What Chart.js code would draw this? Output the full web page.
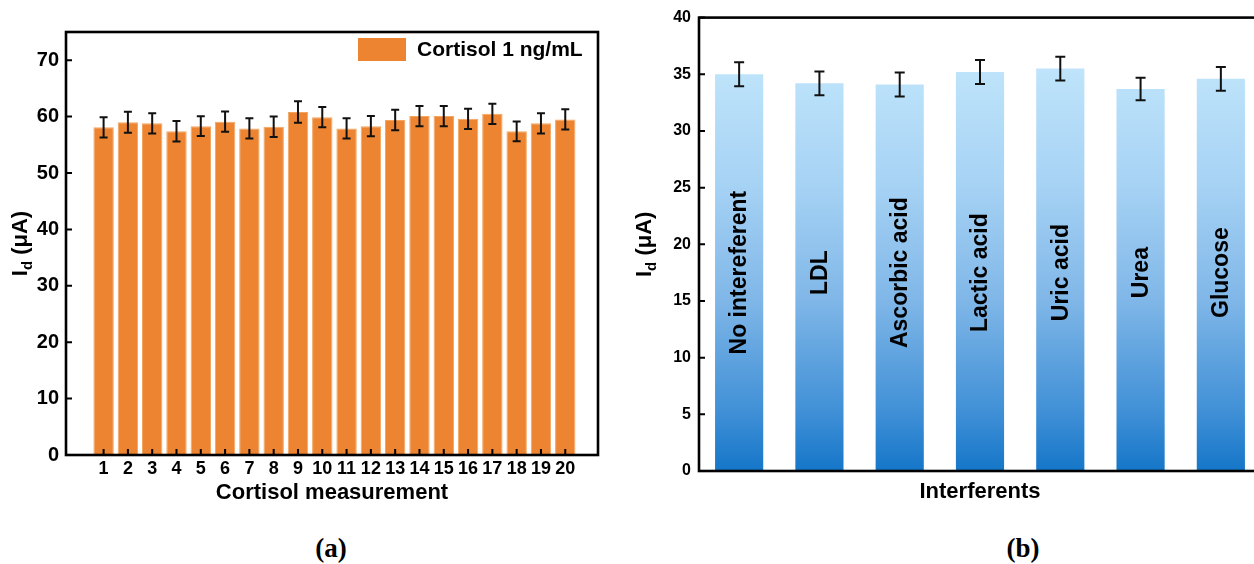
<!DOCTYPE html>
<html>
<head>
<meta charset="utf-8">
<script src="https://cdn.jsdelivr.net/npm/chart.js@4.4.1/dist/chart.umd.min.js"></script>
<style>
  html, body { margin: 0; padding: 0; background: #fff; }
  #wrap { position: relative; width: 1254px; height: 564px; overflow: hidden; }
  canvas { position: absolute; top: 0; }
  #chartA { left: 0; }
  #chartB { left: 620px; }
  .panel { position: absolute; top: 533px; line-height: 30px; transform: translateX(-50%);
           font: bold 27px 'Liberation Serif', 'Times New Roman', serif; color: #000; }
</style>
</head>
<body>
<div id="wrap">
  <canvas id="chartA" width="620" height="520"></canvas>
  <canvas id="chartB" width="660" height="520"></canvas>
  <div class="panel" style="left:331px">(a)</div>
  <div class="panel" style="left:1023px">(b)</div>
</div>
<script>
// datos del panel (a)
const medidas = [1, 2, 3, 4, 5, 6, 7, 8, 9, 10, 11, 12, 13, 14, 15, 16, 17, 18, 19, 20];
const corriente = [58.1, 59.0, 58.8, 57.4, 58.3, 59.1, 57.9, 58.2, 60.8, 59.9, 57.9, 58.3, 59.4, 60.1, 60.1, 59.6, 60.5, 57.4, 58.8, 59.5];
const errorCorriente = [1.8, 1.85, 1.8, 1.8, 1.75, 1.8, 1.8, 1.8, 1.9, 1.8, 1.8, 1.8, 1.8, 1.8, 1.8, 1.8, 1.8, 1.75, 1.8, 1.8];
const ticksA = [0, 10, 20, 30, 40, 50, 60, 70];

// datos del panel (b)
const interferentes = ['No intereferent', 'LDL', 'Ascorbic acid', 'Lactic acid', 'Uric acid', 'Urea', 'Glucose'];
const valores = [35.0, 34.2, 34.1, 35.2, 35.5, 33.7, 34.6];
const errores = [1.05, 1.05, 1.05, 1.05, 1.05, 1.0, 1.05];
const ticksB = [0, 5, 10, 15, 20, 25, 30, 35, 40];

Chart.defaults.font.family = "'Liberation Sans', Arial, sans-serif";
Chart.defaults.font.weight = 'bold';
Chart.defaults.color = '#000';

// marco negro y ticks hacia adentro
const marcoPlugin = {
    id: 'marco',
    afterDatasetsDraw(chart, args, opts) {
        const { ctx, chartArea: a, scales } = chart;
        ctx.save();
        ctx.strokeStyle = '#000';
        ctx.lineWidth = 2;
        ctx.beginPath();
        scales.y.ticks.forEach(t => {
            const y = scales.y.getPixelForValue(t.value);
            ctx.moveTo(a.left, y);
            ctx.lineTo(a.left + 6, y);
        });
        if (opts.xTicks) {
            scales.x.ticks.forEach(t => {
                const x = scales.x.getPixelForValue(t.value);
                ctx.moveTo(x, a.bottom);
                ctx.lineTo(x, a.bottom - 6);
            });
        }
        ctx.stroke();
        ctx.lineWidth = 2.6;
        ctx.strokeRect(a.left, a.top, a.right - a.left, a.bottom - a.top);
        ctx.restore();
    }
};

// barras de error
const errorPlugin = {
    id: 'barrasError',
    afterDatasetsDraw(chart, args, opts) {
        const { ctx } = chart;
        const meta = chart.getDatasetMeta(0);
        const ys = chart.scales.y;
        const datos = chart.data.datasets[0].data;
        ctx.save();
        ctx.strokeStyle = '#111';
        ctx.lineWidth = 2;
        meta.data.forEach((bar, i) => {
            const v = typeof datos[i] === 'object' ? datos[i].y : datos[i];
            const y1 = ys.getPixelForValue(v + opts.errores[i]);
            const y2 = ys.getPixelForValue(v - opts.errores[i]);
            const c = opts.cap / 2;
            ctx.beginPath();
            ctx.moveTo(bar.x, y1); ctx.lineTo(bar.x, y2);
            ctx.moveTo(bar.x - c, y1); ctx.lineTo(bar.x + c, y1);
            ctx.moveTo(bar.x - c, y2); ctx.lineTo(bar.x + c, y2);
            ctx.stroke();
        });
        ctx.restore();
    }
};

// título del eje y con subíndice
const tituloYPlugin = {
    id: 'tituloY',
    afterDraw(chart, args, opts) {
        const { ctx, chartArea: a } = chart;
        const grande = "bold " + opts.size + "px 'Liberation Sans', Arial, sans-serif";
        const chico = "bold " + Math.round(opts.size * 0.68) + "px 'Liberation Sans', Arial, sans-serif";
        ctx.save();
        ctx.font = grande;
        const wI = ctx.measureText('I').width;
        const wR = ctx.measureText(' (\u03bcA)').width;
        ctx.font = chico;
        const wd = ctx.measureText('d').width;
        const total = wI + wd + wR;
        ctx.translate(opts.x, (a.top + a.bottom) / 2);
        ctx.rotate(-Math.PI / 2);
        ctx.fillStyle = '#000';
        ctx.textBaseline = 'middle';
        ctx.textAlign = 'left';
        let x = -total / 2;
        ctx.font = grande;
        ctx.fillText('I', x, 0);
        x += wI;
        ctx.font = chico;
        ctx.fillText('d', x, opts.size * 0.3);
        x += wd;
        ctx.font = grande;
        ctx.fillText(' (\u03bcA)', x, 0);
        ctx.restore();
    }
};

// leyenda dentro del área del gráfico (a)
const leyendaPlugin = {
    id: 'leyendaDentro',
    afterDraw(chart, args, opts) {
        const { ctx } = chart;
        const ds = chart.data.datasets[0];
        ctx.save();
        ctx.fillStyle = ds.backgroundColor;
        ctx.fillRect(opts.x, opts.y, 48, 23);
        ctx.fillStyle = '#000';
        ctx.font = "bold 21px 'Liberation Sans', Arial, sans-serif";
        ctx.textBaseline = 'middle';
        ctx.fillText(ds.label, opts.x + 59, opts.y + 12);
        ctx.restore();
    }
};

// nombres dentro de las barras (b)
const etiquetasPlugin = {
    id: 'etiquetasBarra',
    afterDatasetsDraw(chart, args, opts) {
        const { ctx } = chart;
        const meta = chart.getDatasetMeta(0);
        const yc = chart.scales.y.getPixelForValue(opts.centro);
        ctx.save();
        ctx.fillStyle = '#000';
        ctx.font = "bold 23px 'Liberation Sans', Arial, sans-serif";
        ctx.textAlign = 'center';
        ctx.textBaseline = 'middle';
        meta.data.forEach((bar, i) => {
            ctx.save();
            ctx.translate(bar.x, yc);
            ctx.rotate(-Math.PI / 2);
            ctx.fillText(chart.data.labels[i], 0, 1);
            ctx.restore();
        });
        ctx.restore();
    }
};

// degradado azul de las barras
function degradado(context) {
    const chart = context.chart;
    if (!chart.chartArea) return '#8fc3ee';
    const ys = chart.scales.y;
    const g = chart.ctx.createLinearGradient(0, ys.getPixelForValue(36), 0, ys.getPixelForValue(0));
    g.addColorStop(0, '#c0e5fb');
    g.addColorStop(0.3, '#a6d2f4');
    g.addColorStop(0.58, '#80b7e8');
    g.addColorStop(0.86, '#3f8fd6');
    g.addColorStop(1, '#1576c8');
    return g;
}

new Chart(document.getElementById('chartA'), {
    type: 'bar',
    data: {
        datasets: [{
            label: 'Cortisol 1 ng/mL',
            data: medidas.map((m, i) => ({ x: m, y: corriente[i] })),
            backgroundColor: '#ED8431',
            borderColor: '#f3a560',
            borderWidth: 1,
            barPercentage: 0.84,
            categoryPercentage: 1
        }]
    },
    options: {
        responsive: false,
        animation: false,
        devicePixelRatio: 1,
        layout: { padding: { top: 32, right: 22, left: 0, bottom: 0 } },
        plugins: {
            legend: { display: false },
            tooltip: { enabled: false },
            marco: { xTicks: true },
            barrasError: { errores: errorCorriente, cap: 8 },
            tituloY: { x: 21, size: 22 },
            leyendaDentro: { x: 358, y: 38 }
        },
        scales: {
            x: {
                type: 'linear',
                min: 0,
                max: 20.8,
                afterBuildTicks: s => { s.ticks = medidas.map(v => ({ value: v })); },
                afterFit: s => { s.height = 65; },
                grid: { display: false, drawTicks: false },
                border: { display: false },
                ticks: { autoSkip: false, maxRotation: 0, padding: 3, font: { size: 18, weight: 'bold' } },
                title: { display: true, text: 'Cortisol measurement', font: { size: 22, weight: 'bold' }, padding: { top: 0, bottom: 14 } }
            },
            y: {
                min: 0,
                max: 75,
                afterBuildTicks: s => { s.ticks = ticksA.map(v => ({ value: v })); },
                afterFit: s => { s.width = 66; },
                grid: { display: false, drawTicks: false },
                border: { display: false },
                ticks: { padding: 7, font: { size: 20, weight: 'bold' } }
            }
        }
    },
    plugins: [marcoPlugin, errorPlugin, tituloYPlugin, leyendaPlugin]
});

new Chart(document.getElementById('chartB'), {
    type: 'bar',
    data: {
        labels: interferentes,
        datasets: [{
            label: 'Interferents',
            data: valores,
            backgroundColor: degradado,
            borderWidth: 0,
            barPercentage: 0.6,
            categoryPercentage: 1
        }]
    },
    options: {
        responsive: false,
        animation: false,
        devicePixelRatio: 1,
        layout: { padding: { top: 16, right: 19, left: 0, bottom: 0 } },
        plugins: {
            legend: { display: false },
            tooltip: { enabled: false },
            marco: { xTicks: false },
            barrasError: { errores: errores, cap: 10 },
            tituloY: { x: 25, size: 22 },
            etiquetasBarra: { centro: 17.5 }
        },
        scales: {
            x: {
                afterFit: s => { s.height = 49; },
                grid: { display: false, drawTicks: false },
                border: { display: false },
                ticks: { display: false },
                title: { display: true, text: 'Interferents', font: { size: 22, weight: 'bold' }, padding: { top: 0, bottom: 15 } }
            },
            y: {
                min: 0,
                max: 40,
                afterBuildTicks: s => { s.ticks = ticksB.map(v => ({ value: v })); },
                afterFit: s => { s.width = 79; },
                grid: { display: false, drawTicks: false },
                border: { display: false },
                ticks: { padding: 8, font: { size: 16, weight: 'bold' } }
            }
        }
    },
    plugins: [marcoPlugin, errorPlugin, tituloYPlugin, etiquetasPlugin]
});
</script>
</body>
</html>
